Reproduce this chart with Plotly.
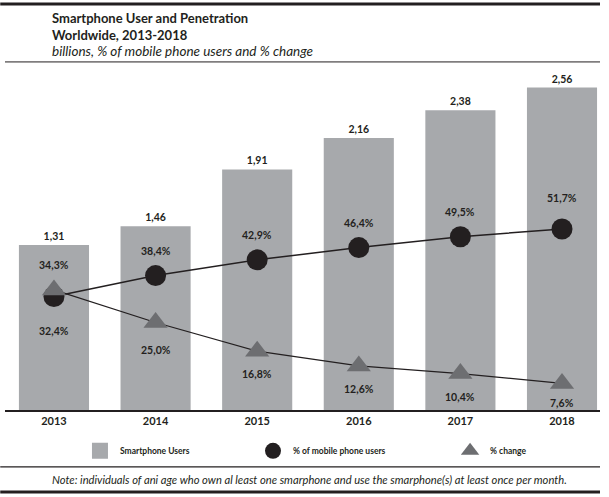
import plotly.graph_objects as go

years = ["2013", "2014", "2015", "2016", "2017", "2018"]
users_bn = [1.31, 1.46, 1.91, 2.16, 2.38, 2.56]
pct_mobile = [32.4, 38.4, 42.9, 46.4, 49.5, 51.7]
pct_change = [34.3, 25.0, 16.8, 12.6, 10.4, 7.6]

BAR = "#a7a9ac"
DARK = "#231f20"
TRI = "#6d6e71"
FONT = "Lato"

def fmt_pct(v):
    return f"{v:.1f}".replace(".", ",") + "%"

fig = go.Figure()
fig.add_trace(go.Bar(
    x=years, y=users_bn, name="Smartphone Users", showlegend=False,
    marker=dict(color=BAR, line=dict(width=0)), width=0.69,
    texttemplate="<b>%{y:.2f}</b>", textposition="outside",
    textfont=dict(family=FONT, size=10.5, color=DARK), cliponaxis=False,
    yaxis="y",
))
fig.add_trace(go.Scatter(
    x=years, y=pct_mobile, name="% of mobile phone users", showlegend=False,
    mode="lines+markers", yaxis="y2",
    line=dict(color=DARK, width=1.5),
    marker=dict(symbol="circle", size=21, color=DARK),
    cliponaxis=False,
))
fig.add_trace(go.Scatter(
    x=years, y=pct_change, name="% change", showlegend=False,
    mode="lines+markers", yaxis="y2",
    line=dict(color=DARK, width=1.2),
    marker=dict(symbol="triangle-up", size=21, color=TRI),
    cliponaxis=False,
))

# legend entries (marker only, as in the reference)
fig.add_trace(go.Scatter(x=[None], y=[None], mode="markers", name="<b>Smartphone Users</b>",
                         marker=dict(symbol="square", size=16, color=BAR), legend="legend"))
fig.add_trace(go.Scatter(x=[None], y=[None], mode="markers", name="<b>% of mobile phone users</b>",
                         marker=dict(symbol="circle", size=16, color=DARK), legend="legend2"))
fig.add_trace(go.Scatter(x=[None], y=[None], mode="markers", name="<b>% change</b>",
                         marker=dict(symbol="triangle-up", size=16, color=TRI), legend="legend3"))

n = len(years)
ann = []
for i, v in enumerate(pct_mobile):
    if i == 0:
        shift = -34
    elif i == n - 1:
        shift = 31
    else:
        shift = 25
    ann.append(dict(x=i, y=v, xref="x", yref="y2", text=f"<b>{fmt_pct(v)}</b>",
                    showarrow=False, yshift=shift,
                    font=dict(family=FONT, size=10.5, color=DARK)))
for i, v in enumerate(pct_change):
    if i == 0:
        shift = 25
    elif i == 1:
        shift = -28
    elif i == n - 1:
        shift = -20
    else:
        shift = -23
    ann.append(dict(x=i, y=v, xref="x", yref="y2", text=f"<b>{fmt_pct(v)}</b>",
                    showarrow=False, yshift=shift,
                    font=dict(family=FONT, size=10.5, color=DARK)))

# title block
ann.append(dict(x=0.0756, y=1.170, xref="paper", yref="paper", xanchor="left", yanchor="middle",
                text="<b>Smartphone User and Penetration</b>", showarrow=False,
                font=dict(family=FONT, size=13, color=DARK)))
ann.append(dict(x=0.0756, y=1.119, xref="paper", yref="paper", xanchor="left", yanchor="middle",
                text="<b>Worldwide, 2013-2018</b>", showarrow=False,
                font=dict(family=FONT, size=13, color=DARK)))
ann.append(dict(x=0.0756, y=1.071, xref="paper", yref="paper", xanchor="left", yanchor="middle",
                text="<i>billions, % of mobile phone users and % change</i>", showarrow=False,
                font=dict(family=FONT, size=13.5, color=DARK)))
ann.append(dict(x=0.0756, y=-0.206, xref="paper", yref="paper", xanchor="left", yanchor="middle",
                text="<i>Note: individuals of ani age who own al least one smarphone and use the smarphone(s) at least once per month.</i>",
                showarrow=False, font=dict(family=FONT, size=11.2, color=DARK)))

shapes = [
    dict(type="line", xref="paper", yref="paper", x0=-0.008, x1=1.0, y0=1.212, y1=1.212,
         line=dict(color=DARK, width=3)),
    dict(type="line", xref="paper", yref="paper", x0=0.0, x1=1.0, y0=1.039, y1=1.039,
         line=dict(color=DARK, width=1)),
    dict(type="line", xref="paper", yref="paper", x0=-0.008, x1=1.0, y0=-0.170, y1=-0.170,
         line=dict(color=DARK, width=1.3)),
    dict(type="line", xref="paper", yref="paper", x0=-0.008, x1=1.0, y0=-0.245, y1=-0.245,
         line=dict(color=DARK, width=3)),
]

legend_common = dict(orientation="h", y=-0.122, xanchor="left", yanchor="middle",
                     itemwidth=30, bgcolor="rgba(0,0,0,0)",
                     font=dict(family=FONT, size=8.5, color=DARK))

fig.update_layout(
    width=609, height=497,
    margin=dict(l=5, r=9, t=75, b=87),
    paper_bgcolor="white", plot_bgcolor="white",
    separators=",.",
    showlegend=True,
    legend=dict(x=0.126, **legend_common),
    legend2=dict(x=0.4168, **legend_common),
    legend3=dict(x=0.748, **legend_common),
    xaxis=dict(type="category", range=[-0.482, 5.374], showline=True, linecolor=DARK,
               linewidth=1.5, ticks="", showgrid=False, zeroline=False,
               tickfont=dict(family=FONT, size=11, color=DARK),
               tickprefix="<b>", ticksuffix="</b>"),
    yaxis=dict(range=[0, 2.66], showgrid=False, zeroline=False, showticklabels=False,
               showline=False, ticks=""),
    yaxis2=dict(range=[0, 95.7], overlaying="y", side="right", showgrid=False, zeroline=False,
                showticklabels=False, showline=False, ticks=""),
    annotations=ann, shapes=shapes,
)

fig.write_html("out.html", config={"displayModeBar": False},
               post_script="document.body.style.margin='0';")
